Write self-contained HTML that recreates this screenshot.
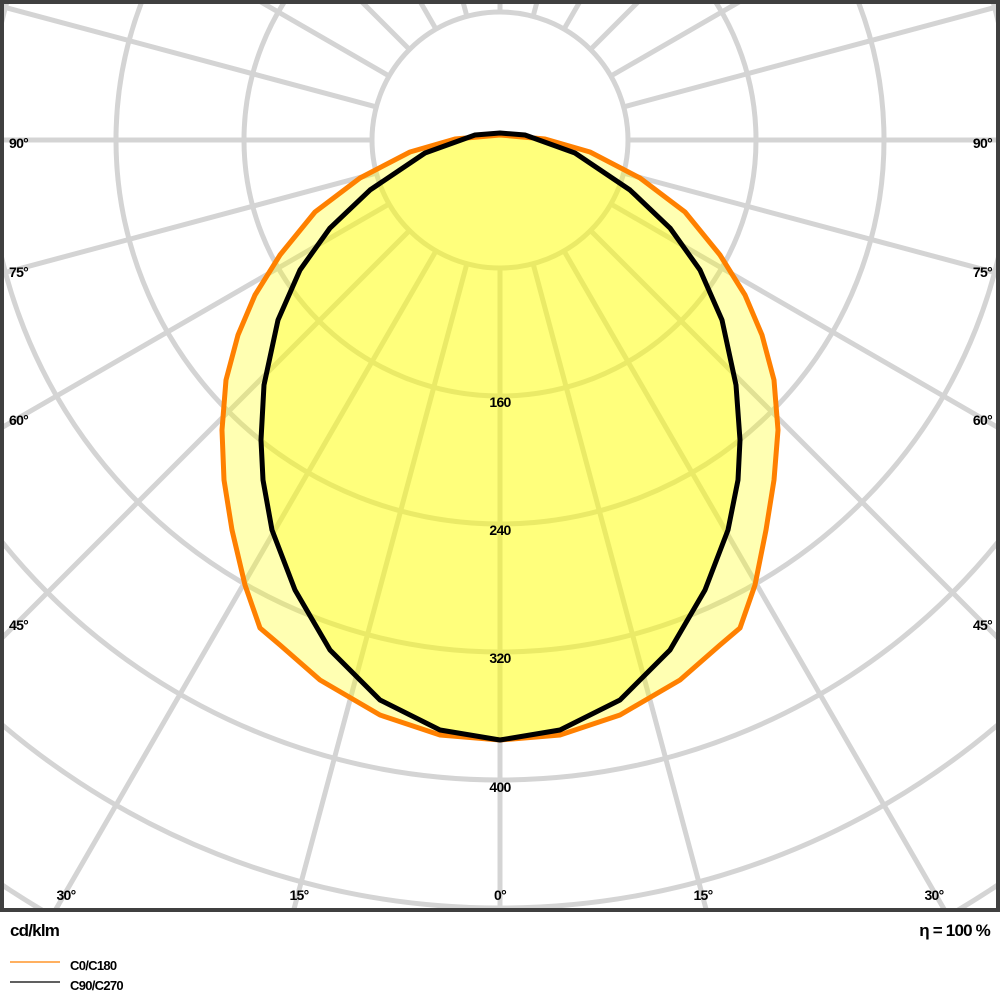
<!DOCTYPE html>
<html><head><meta charset="utf-8"><style>
html,body{margin:0;padding:0;background:#fff;overflow:hidden;width:1000px;height:1000px;}
svg{display:block;font-family:"Liberation Sans",Arial,sans-serif;}
</style></head><body>
<svg width="1000" height="1000" viewBox="0 0 1000 1000" xmlns="http://www.w3.org/2000/svg">
<defs><clipPath id="c"><rect x="4" y="4" width="992" height="904"/></clipPath></defs>
<g clip-path="url(#c)">
<g stroke="#d4d4d4" stroke-width="5" fill="none">
<circle cx="500" cy="140" r="128"/>
<circle cx="500" cy="140" r="256"/>
<circle cx="500" cy="140" r="384"/>
<circle cx="500" cy="140" r="512"/>
<circle cx="500" cy="140" r="640"/>
<circle cx="500" cy="140" r="768"/>
<circle cx="500" cy="140" r="896"/>
<circle cx="500" cy="140" r="1024"/>
<path d="M500,268 L500,1540 M500,12 L500,-1260
M533.1,263.6 L862.3,1492.3 M466.9,263.6 L137.7,1492.3 M533.1,16.4 L862.3,-1212.3 M466.9,16.4 L137.7,-1212.3
M564,250.9 L1200,1352.4 M436,250.9 L-200,1352.4 M564,29.1 L1200,-1072.4 M436,29.1 L-200,-1072.4
M590.5,230.5 L1489.9,1129.9 M409.5,230.5 L-489.9,1129.9 M590.5,49.5 L1489.9,-849.9 M409.5,49.5 L-489.9,-849.9
M610.9,204 L1712.4,840 M389.1,204 L-712.4,840 M610.9,76 L1712.4,-560 M389.1,76 L-712.4,-560
M623.6,173.1 L1852.3,502.3 M376.4,173.1 L-852.3,502.3 M623.6,106.9 L1852.3,-222.3 M376.4,106.9 L-852.3,-222.3
M628,140 L1900,140 M372,140 L-900,140"/>
</g>
<path fill="#ffff00" fill-opacity="0.3" d="M500,740 L560,735 L620,715 L680,680 L720,645 L740,628 L755,585 L766,530 L774,480 L778,430 L774,380 L762,335 L745,295 L720,255 L685,212 L640,178 L590,152 L545,139 L500,135 L455,139 L410,152 L360,178 L315,212 L280,255 L255,295 L238,335 L226,380 L222,430 L224,480 L232,530 L245,585 L260,628 L280,645 L320,680 L380,715 L440,735 Z"/>
<path fill="#ffff00" fill-opacity="0.3" d="M500,740 L560,730 L620,700 L670,650 L705,590 L728,530 L738,480 L740,440 L736,385 L722,320 L700,270 L670,228 L630,190 L575,153 L525,135 L500,133 L475,135 L425,153 L370,190 L330,228 L300,270 L278,320 L264,385 L261,440 L263,480 L272,530 L295,590 L330,650 L380,700 L440,730 Z"/>
<path fill="none" stroke="#ff8000" stroke-width="5" stroke-linejoin="round" d="M500,740 L560,735 L620,715 L680,680 L720,645 L740,628 L755,585 L766,530 L774,480 L778,430 L774,380 L762,335 L745,295 L720,255 L685,212 L640,178 L590,152 L545,139 L500,135 L455,139 L410,152 L360,178 L315,212 L280,255 L255,295 L238,335 L226,380 L222,430 L224,480 L232,530 L245,585 L260,628 L280,645 L320,680 L380,715 L440,735 Z"/>
<path fill="none" stroke="#000" stroke-width="5" stroke-linejoin="round" d="M500,740 L560,730 L620,700 L670,650 L705,590 L728,530 L738,480 L740,440 L736,385 L722,320 L700,270 L670,228 L630,190 L575,153 L525,135 L500,133 L475,135 L425,153 L370,190 L330,228 L300,270 L278,320 L264,385 L261,440 L263,480 L272,530 L295,590 L330,650 L380,700 L440,730 Z"/>
</g>
<rect x="2" y="2" width="996" height="908" fill="none" stroke="#404040" stroke-width="4"/>
<g font-size="14" fill="#000" text-anchor="middle" letter-spacing="-0.7" font-weight="bold">
<text x="500" y="407">160</text><text x="500" y="535">240</text><text x="500" y="663">320</text><text x="500" y="792">400</text>
<text x="66" y="900">30°</text><text x="299" y="900">15°</text><text x="500" y="900">0°</text><text x="703" y="900">15°</text><text x="934" y="900">30°</text>
</g>
<g font-size="14" fill="#000" letter-spacing="-0.7" font-weight="bold">
<text x="9" y="148">90°</text><text x="9" y="277">75°</text><text x="9" y="425">60°</text><text x="9" y="630">45°</text>
</g>
<g font-size="14" fill="#000" text-anchor="end" letter-spacing="-0.7" font-weight="bold">
<text x="992" y="148">90°</text><text x="992" y="277">75°</text><text x="992" y="425">60°</text><text x="992" y="630">45°</text>
</g>
<text x="10" y="936" font-size="17" letter-spacing="-0.8" font-weight="bold">cd/klm</text>
<text x="990" y="936" font-size="17" text-anchor="end" letter-spacing="-0.8" font-weight="bold">η = 100 %</text>
<line x1="10" y1="962" x2="60" y2="962" stroke="#ff8000" stroke-width="1.2"/>
<line x1="10" y1="982" x2="60" y2="982" stroke="#000" stroke-width="1.2"/>
<text x="70" y="970" font-size="13" letter-spacing="-0.7" font-weight="bold">C0/C180</text>
<text x="70" y="990" font-size="13" letter-spacing="-0.7" font-weight="bold">C90/C270</text>
</svg>
</body></html>
